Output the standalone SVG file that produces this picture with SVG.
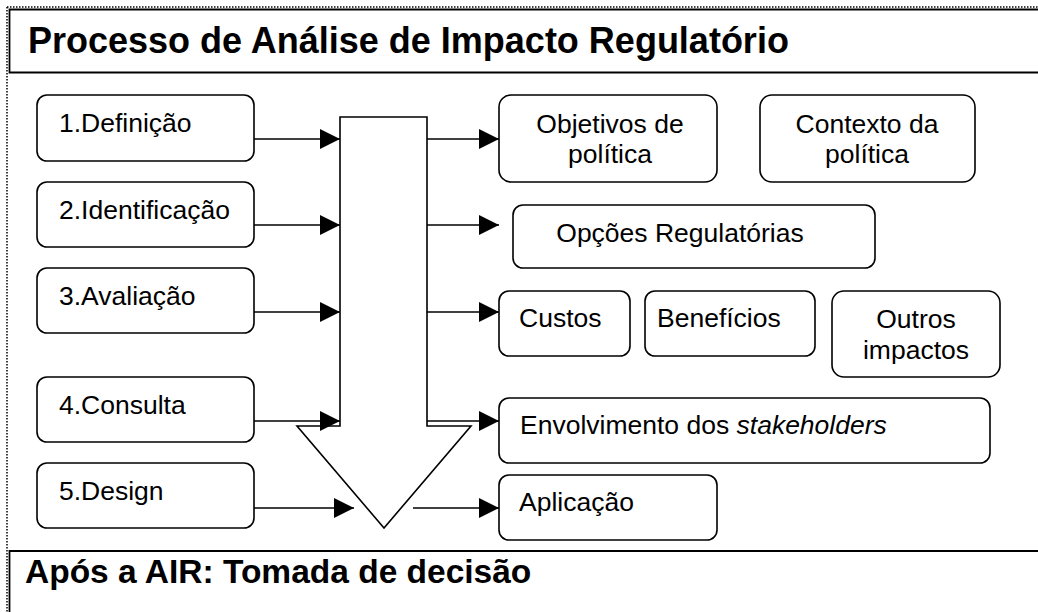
<svg xmlns="http://www.w3.org/2000/svg" width="1038" height="612" viewBox="0 0 1038 612">
<defs>
<marker id="ah" markerWidth="20" markerHeight="20" viewBox="0 0 20 20" refX="20" refY="10" orient="auto" markerUnits="userSpaceOnUse">
<path d="M0,0 L20,10 L0,20 Z" fill="#000"/>
</marker>
<style>
.box{fill:#fff;stroke:#000;stroke-width:1.6}
.t{font-family:"Liberation Sans",Arial,sans-serif;font-size:26.5px;fill:#000}
.c{text-anchor:middle}
.h{font-family:"Liberation Sans",Arial,sans-serif;font-weight:bold;fill:#000}
.con{stroke:#000;stroke-width:1.6;fill:none}
</style>
</defs>
<rect width="1038" height="612" fill="#fff"/>
<g id="frame">
<line x1="7" y1="7" x2="1038" y2="7" stroke="#000" stroke-width="1.5" stroke-dasharray="1.5,1.5"/>
<line x1="7" y1="7" x2="7" y2="612" stroke="#000" stroke-width="1.5" stroke-dasharray="1.5,1.5"/>
</g>
<g id="header">
<path d="M1040,9.5 H9.5 V72.5 H1040" fill="#fff" stroke="#000" stroke-width="1.8"/>
<text class="h" x="28" y="53" font-size="36">Processo de Análise de Impacto Regulatório</text>
</g>
<g id="footer">
<path d="M1040,551 H9.5 V612" fill="none" stroke="#000" stroke-width="1.8"/>
<text class="h" x="25" y="583" font-size="33.5">Após a AIR: Tomada de decisão</text>
</g>
<g id="bigarrow">
<polygon points="340,117 427,117 427,426 471,426 384,528 297,426 340,426" fill="#fff" stroke="#000" stroke-width="1.6"/>
</g>
<g id="n1"><rect class="box" x="37" y="95" width="217" height="66" rx="10"/><text class="t" x="59" y="132">1.Definição</text></g>
<g id="n2"><rect class="box" x="37" y="182" width="217" height="65" rx="10"/><text class="t" x="59" y="219">2.Identificação</text></g>
<g id="n3"><rect class="box" x="37" y="268" width="217" height="65" rx="10"/><text class="t" x="59" y="305">3.Avaliação</text></g>
<g id="n4"><rect class="box" x="37" y="377" width="217" height="65" rx="10"/><text class="t" x="59" y="414">4.Consulta</text></g>
<g id="n5"><rect class="box" x="37" y="463" width="217" height="65" rx="10"/><text class="t" x="59" y="500">5.Design</text></g>
<g id="objetivos"><rect class="box" x="499" y="95" width="218" height="87" rx="12"/><text class="t c" x="610" y="133">Objetivos de</text><text class="t c" x="610" y="163">política</text></g>
<g id="contexto"><rect class="box" x="760" y="95" width="215" height="87" rx="12"/><text class="t c" x="867" y="133">Contexto da</text><text class="t c" x="867" y="163">política</text></g>
<g id="opcoes"><rect class="box" x="513" y="205" width="362" height="63" rx="10"/><text class="t c" x="680" y="242">Opções Regulatórias</text></g>
<g id="custos"><rect class="box" x="499" y="291" width="131" height="65" rx="10"/><text class="t" x="519" y="327">Custos</text></g>
<g id="beneficios"><rect class="box" x="645" y="291" width="170" height="65" rx="10"/><text class="t" x="657" y="327">Benefícios</text></g>
<g id="outros"><rect class="box" x="832" y="291" width="168" height="86" rx="12"/><text class="t c" x="916" y="328">Outros</text><text class="t c" x="916" y="359">impactos</text></g>
<g id="envolvimento"><rect class="box" x="499" y="398" width="491" height="65" rx="10"/><text class="t" x="520" y="434">Envolvimento dos <tspan font-style="italic">stakeholders</tspan></text></g>
<g id="aplicacao"><rect class="box" x="499" y="475" width="218" height="65" rx="10"/><text class="t" x="519" y="511">Aplicação</text></g>
<g id="connectors">
<line class="con" x1="254" y1="139" x2="340" y2="139" marker-end="url(#ah)"/>
<line class="con" x1="254" y1="225" x2="340" y2="225" marker-end="url(#ah)"/>
<line class="con" x1="254" y1="312" x2="340" y2="312" marker-end="url(#ah)"/>
<line class="con" x1="254" y1="421" x2="340" y2="421" marker-end="url(#ah)"/>
<line class="con" x1="254" y1="508" x2="354" y2="508" marker-end="url(#ah)"/>
<line class="con" x1="427" y1="139" x2="499" y2="139" marker-end="url(#ah)"/>
<line class="con" x1="427" y1="225" x2="499" y2="225" marker-end="url(#ah)"/>
<line class="con" x1="427" y1="312" x2="499" y2="312" marker-end="url(#ah)"/>
<line class="con" x1="427" y1="421" x2="499" y2="421" marker-end="url(#ah)"/>
<line class="con" x1="413" y1="508" x2="499" y2="508" marker-end="url(#ah)"/>
</g>
</svg>
